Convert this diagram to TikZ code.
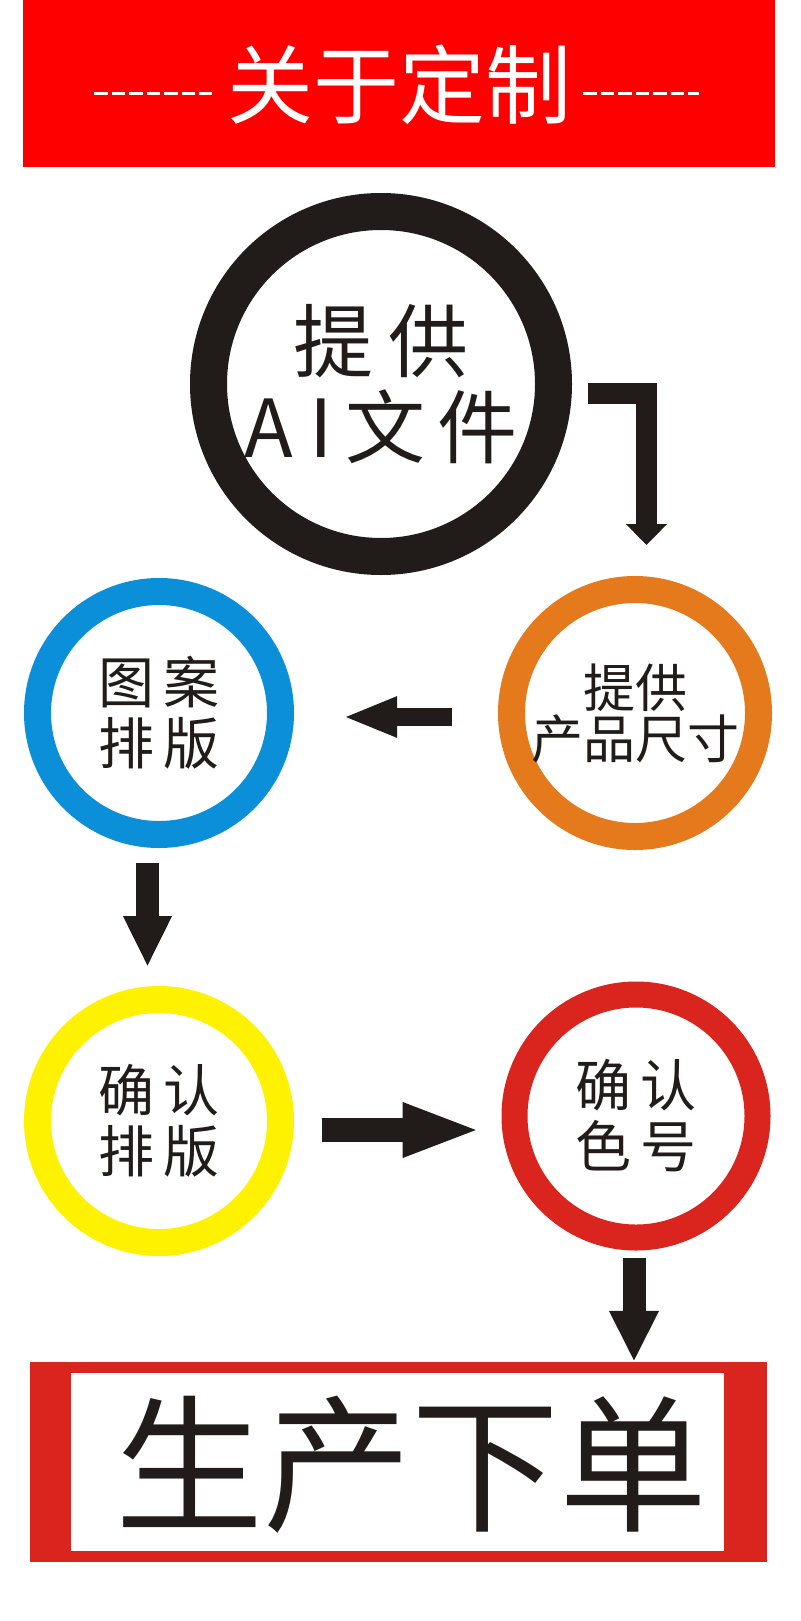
\documentclass[tikz,border=0pt]{standalone}
\usepackage{fontspec}
\newfontfamily\cjk{Noto Sans CJK SC}
\usetikzlibrary{calc, arrows.meta}
\definecolor{hdred}{HTML}{FF0000}
\definecolor{boxred}{HTML}{D9251D}
\definecolor{ringorange}{HTML}{E47A1B}
\definecolor{ringblue}{HTML}{0B8FD9}
\definecolor{ringyellow}{HTML}{FFF200}
\definecolor{ink}{HTML}{211C19}
\tikzstyle{ring}=[shape=circle, inner sep=0, line width=27pt, minimum size=243pt, align=center, text=ink]
\tikzstyle{bigarrow}=[draw=ink, line width=23pt, -{Triangle[width=46pt, length=51pt]}]
\tikzstyle{dashline}=[draw=white, line width=3pt, dash pattern=on 13.5pt off 4pt]

\begin{document}
\begin{tikzpicture}[x=1pt, y=-1pt]
\useasboundingbox (0,0) rectangle (800,1621);
\fill[white] (0,0) rectangle (800,1621);
% header
\node at (399,83.5)[fill=hdred, minimum width=752pt, minimum height=167pt, inner sep=0](header){};
\node at (399,85)[text=white, font=\cjk\fontsize{86}{90}\selectfont, inner sep=0](title){关于定制};
\draw[dashline] (94,94)--(212,94);
\draw[dashline] (583,94)--(699,94);
% steps
\node at (381,384)[ring, draw=ink, line width=37pt, minimum size=345pt,
  font=\cjk\fontsize{80}{86}\selectfont](ai){提\hspace{15pt}供\\A\hspace{16pt}I\hspace{12pt}文\hspace{12pt}件};
\node at (635,713)[ring, draw=ringorange, minimum size=247pt,
  font=\cjk\fontsize{52}{51}\selectfont](size){提供\\产品尺寸};
\node at (159,713)[ring, draw=ringblue, font=\cjk\fontsize{56}{61}\selectfont](layout){图\,案\\排\,版};
\node at (159,1121)[ring, draw=ringyellow, font=\cjk\fontsize{56}{61}\selectfont](check){确\,认\\排\,版};
\node at (636,1116)[ring, draw=boxred, line width=26pt, font=\cjk\fontsize{56}{61}\selectfont](color){确\,认\\色\,号};
% order box
\node at (398.5,1462)[fill=boxred, minimum width=737pt, minimum height=200pt, inner sep=0](order){};
\node at (397.5,1462)[fill=white, minimum width=653pt, minimum height=178pt, inner sep=0](orderin){};
\node at (411,1465)[text=ink, font=\cjk\fontsize{148}{150}\selectfont, inner sep=0](ordertext){生产下单};
% arrows
\draw[bigarrow, line width=21pt, line join=miter, -{Triangle[width=40pt, length=21pt]}]
  ([xshift=16pt, yshift=-9.5pt]ai.east) -| ([xshift=11.5pt, yshift=31pt]size.north);
\draw[bigarrow, line width=18pt, -{Triangle[width=37pt, length=54pt]}]
  ([xshift=-46pt, yshift=-4pt]size.west)--([xshift=49pt, yshift=-4pt]layout.east);
\draw[bigarrow, -{Triangle[width=45pt, length=51pt]}]
  ([xshift=-11.5pt, yshift=-15pt]layout.south)--([xshift=-11.5pt, yshift=19pt]check.north);
\draw[bigarrow, line width=24pt, -{Triangle[width=49pt, length=79pt]}]
  ([xshift=28pt, yshift=-9pt]check.east)--([xshift=-20pt, yshift=-14pt]color.west);
\draw[bigarrow] ([xshift=-2pt, yshift=-7pt]color.south)--([xshift=235.5pt]order.north);
\end{tikzpicture}
\end{document}
